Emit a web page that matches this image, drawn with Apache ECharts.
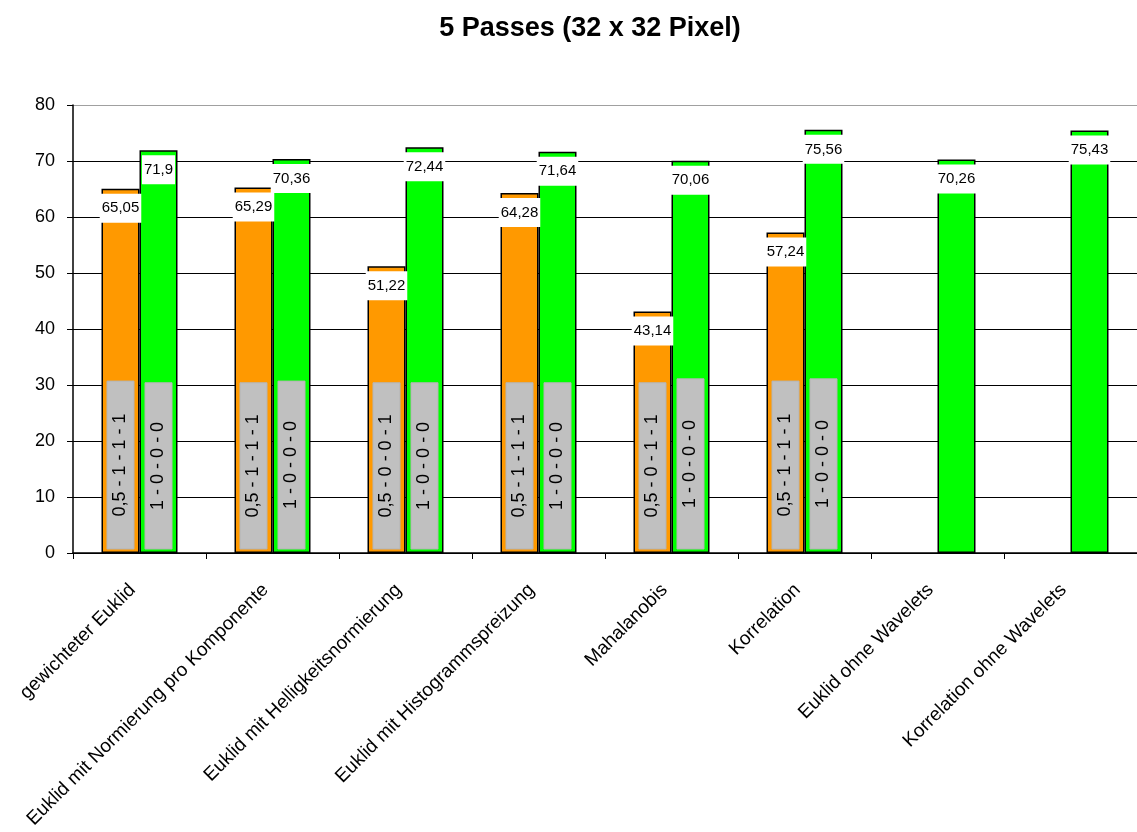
<!DOCTYPE html>
<html>
<head>
<meta charset="utf-8">
<script src="https://cdn.jsdelivr.net/npm/echarts@6/dist/echarts.min.js"></script>
<style>
  html, body { margin: 0; padding: 0; background: #fff; }
  #chart { width: 1137px; height: 832px; }
</style>
</head>
<body>
<div id="chart"></div>
<script>
const categories = [
  'gewichteter Euklid',
  'Euklid mit Normierung pro Komponente',
  'Euklid mit Helligkeitsnormierung',
  'Euklid mit Histogrammspreizung',
  'Mahalanobis',
  'Korrelation',
  'Euklid ohne Wavelets',
  'Korrelation ohne Wavelets'
];
const orangeValues = [65.05, 65.29, 51.22, 64.28, 43.14, 57.24, null, null];
const greenValues = [71.9, 70.36, 72.44, 71.64, 70.06, 75.56, 70.26, 75.43];

// grey boxes inside the bars
const orangeGray = [30.7, 30.4, 30.4, 30.4, 30.4, 30.7, null, null];
const greenGray = [30.4, 30.7, 30.4, 30.4, 31.1, 31.1, null, null];
const orangeGrayText = ['0,5 - 1 - 1 - 1', '0,5 - 1 - 1 - 1', '0,5 - 0 - 0 - 1', '0,5 - 1 - 1 - 1', '0,5 - 0 - 1 - 1', '0,5 - 1 - 1 - 1', '', ''];
const greenGrayText = ['1 - 0 - 0 - 0', '1 - 0 - 0 - 0', '1 - 0 - 0 - 0', '1 - 0 - 0 - 0', '1 - 0 - 0 - 0', '1 - 0 - 0 - 0', '', ''];

const yMin = 0, yMax = 80, yStep = 10;

const FONT = 'Liberation Sans, Arial, sans-serif';
const BAR_W = 38;
const GRAY_W = 27;

const grayItems = [];
categories.forEach((c, i) => {
  if (orangeGray[i] != null) grayItems.push([i, orangeGray[i], -1, orangeGrayText[i]]);
  if (greenGray[i] != null) grayItems.push([i, greenGray[i], 1, greenGrayText[i]]);
});

const splitColors = [];
for (let v = yMin; v <= yMax; v += yStep) splitColors.push(v === yMax ? '#a0a0a0' : '#000');

const chart = echarts.init(document.getElementById('chart'));

const valueLabel = {
  show: true,
  position: 'insideTop',
  distance: 5,
  color: '#000',
  fontFamily: FONT,
  fontSize: 15,
  backgroundColor: '#fff',
  padding: [7, 2, 7, 2],
  formatter: p => String(p.value).replace('.', ',')
};

chart.setOption({
  animation: false,
  textStyle: { fontFamily: FONT },
  title: {
    text: '5 Passes (32 x 32 Pixel)',
    left: 585,
    textAlign: 'center',
    top: 10,
    textStyle: { fontFamily: FONT, fontSize: 27, fontWeight: 'bold', color: '#000' }
  },
  grid: { left: 73, top: 105, right: -8, bottom: 279 },
  xAxis: {
    type: 'category',
    data: categories,
    axisLine: { lineStyle: { color: '#000', width: 1.5 } },
    axisTick: { show: true, length: 6, lineStyle: { color: '#000' } },
    axisLabel: {
      rotate: 45,
      interval: 0,
      margin: 27,
      padding: [0, 10, 0, 0],
      color: '#000',
      fontFamily: FONT,
      fontSize: 19
    }
  },
  yAxis: {
    type: 'value',
    min: yMin,
    max: yMax,
    interval: yStep,
    axisLine: { show: true, lineStyle: { color: '#000', width: 1.5 } },
    axisTick: { show: true, length: 6, lineStyle: { color: '#000' } },
    axisLabel: { margin: 18, color: '#000', fontFamily: FONT, fontSize: 18 },
    splitLine: { show: true, lineStyle: { color: splitColors, width: 1 } }
  },
  series: [
    {
      type: 'bar',
      data: orangeValues,
      barWidth: BAR_W,
      barGap: '0%',
      itemStyle: { color: '#ff9900', borderColor: '#000', borderWidth: 1.5 },
      label: valueLabel
    },
    {
      type: 'bar',
      data: greenValues,
      barWidth: BAR_W,
      itemStyle: { color: '#00ff00', borderColor: '#000', borderWidth: 1.5 },
      label: valueLabel
    },
    {
      type: 'custom',
      z: 5,
      data: grayItems,
      encode: { x: 0, y: 1 },
      renderItem: function (params, api) {
        const item = grayItems[params.dataIndex];
        const base = api.coord([item[0], 0]);
        const top = api.coord([item[0], item[1]]);
        const cx = base[0] + item[2] * BAR_W / 2;
        const bottom = base[1] - 4;
        return {
          type: 'group',
          children: [
            {
              type: 'rect',
              shape: { x: cx - GRAY_W / 2, y: top[1], width: GRAY_W, height: bottom - top[1] },
              style: { fill: '#c0c0c0', stroke: '#b4b4b4', lineWidth: 1 }
            },
            {
              type: 'text',
              x: cx,
              y: (top[1] + bottom) / 2,
              rotation: Math.PI / 2,
              style: {
                text: item[3],
                fill: '#000',
                font: '18px ' + FONT,
                align: 'center',
                verticalAlign: 'middle'
              }
            }
          ]
        };
      }
    }
  ]
});
</script>
</body>
</html>
